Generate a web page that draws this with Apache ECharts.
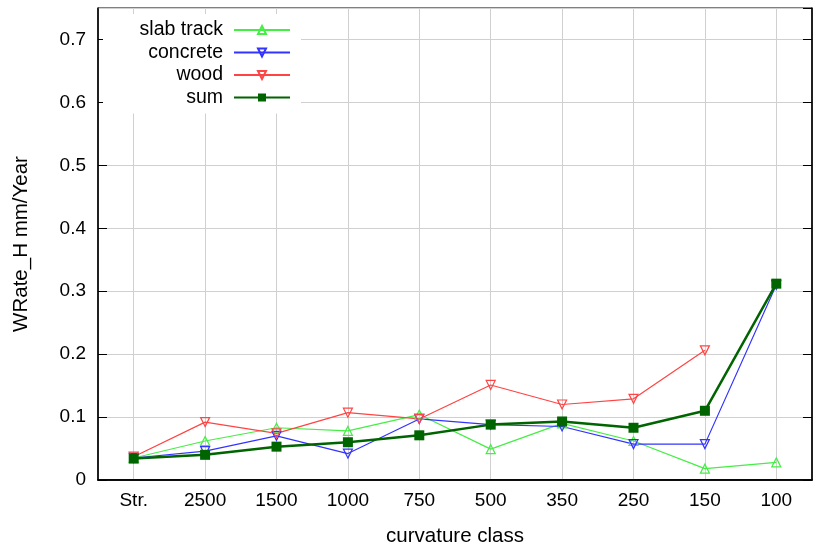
<!DOCTYPE html>
<html><head><meta charset="utf-8">
<script src="https://cdn.jsdelivr.net/npm/echarts@6/dist/echarts.min.js"></script>
<style>html,body{margin:0;padding:0;background:#fff}#c{width:813px;height:545px}</style>
</head><body><div id="c"></div>
<script>
var categories = ['Str.', '2500', '1500', '1000', '750', '500', '350', '250', '150', '100'];
var slabTrack = [0.035, 0.062, 0.083, 0.078, 0.104, 0.049, 0.090, 0.062, 0.018, 0.028];
var concrete  = [0.035, 0.046, 0.070, 0.042, 0.097, 0.088, 0.085, 0.057, 0.057, 0.310];
var wood      = [0.037, 0.092, 0.074, 0.107, 0.097, 0.151, 0.120, 0.129, 0.206, null];
var sum       = [0.034, 0.040, 0.053, 0.060, 0.071, 0.088, 0.093, 0.083, 0.110, 0.312];
var yTicks = {min: 0, max: 0.75, interval: 0.1};

var font = 'Liberation Sans, Arial, sans-serif';
var chart = echarts.init(document.getElementById('c'));
function tri(name, data, color, rot) {
  return {
    name: name, type: 'line', data: data, xAxisIndex: 0, yAxisIndex: 0,
    symbol: 'triangle', symbolSize: 9, symbolRotate: rot,
    lineStyle: {color: color, width: 1.2},
    itemStyle: {color: 'rgba(255,255,255,0)', borderColor: color, borderWidth: 1.2},
    emphasis: {disabled: true}, animation: false, z: 3
  };
}
chart.setOption({
  animation: false,
  backgroundColor: '#fff',
  grid: {left: 98, right: 1, top: 8, bottom: 65, show: true, borderColor: '#000', borderWidth: 1,
         containLabel: false, outerBoundsMode: 'none'},
  legend: {
    orient: 'vertical', left: 103, top: 14, align: 'right',
    backgroundColor: '#fff', padding: [6, 10, 6, 10],
    itemWidth: 56, itemHeight: 10, itemGap: 2.5,
    textStyle: {fontFamily: font, fontSize: 19.5, lineHeight: 20, color: '#000', width: 110, align: 'right', padding: [0, 6, 0, 0]},
    data: ['slab track', 'concrete', 'wood', 'sum']
  },
  xAxis: [{
    type: 'category', data: categories, boundaryGap: true, position: 'bottom',
    name: 'curvature class', nameLocation: 'middle', nameGap: 46,
    nameTextStyle: {fontFamily: font, fontSize: 20.5, color: '#000'},
    axisLine: {lineStyle: {color: '#000', width: 1.5}},
    axisTick: {alignWithLabel: true, inside: true, length: 8, lineStyle: {color: '#000'}},
    axisLabel: {fontFamily: font, fontSize: 19, color: '#000', margin: 11},
    splitLine: {show: true, alignWithLabel: true, lineStyle: {color: '#d0d0d0', width: 1}}
  }, {
    type: 'category', data: categories, boundaryGap: true, position: 'top',
    axisLine: {lineStyle: {color: '#000', width: 1.5}},
    axisTick: {alignWithLabel: true, inside: true, length: 8, lineStyle: {color: '#000'}},
    axisLabel: {show: false}, splitLine: {show: false}
  }],
  yAxis: [{
    type: 'value', min: yTicks.min, max: yTicks.max, interval: yTicks.interval, position: 'left',
    name: 'WRate_H mm/Year', nameLocation: 'middle', nameGap: 66, nameRotate: 90,
    nameTextStyle: {fontFamily: font, fontSize: 20.5, color: '#000'},
    axisLine: {show: true, lineStyle: {color: '#000', width: 1.5}},
    axisTick: {show: true, inside: true, length: 9, lineStyle: {color: '#000'}},
    axisLabel: {fontFamily: font, fontSize: 19, color: '#000', margin: 12, showMaxLabel: false},
    splitLine: {show: true, lineStyle: {color: '#d0d0d0', width: 1}}
  }, {
    type: 'value', min: yTicks.min, max: yTicks.max, interval: yTicks.interval, position: 'right',
    axisLine: {show: true, lineStyle: {color: '#000', width: 1.5}},
    axisTick: {show: true, inside: true, length: 9, lineStyle: {color: '#000'}},
    axisLabel: {show: false}, splitLine: {show: false}
  }],
  series: [
    tri('slab track', slabTrack, '#44ee44', 0),
    tri('concrete', concrete, '#3333ff', 180),
    tri('wood', wood, '#ff4444', 180),
    {
      name: 'sum', type: 'line', data: sum, xAxisIndex: 0, yAxisIndex: 0,
      symbol: 'rect', symbolSize: 10,
      lineStyle: {color: '#006400', width: 2.5},
      itemStyle: {color: '#006400'},
      emphasis: {disabled: true}, z: 4
    }
  ]
});
</script></body></html>
